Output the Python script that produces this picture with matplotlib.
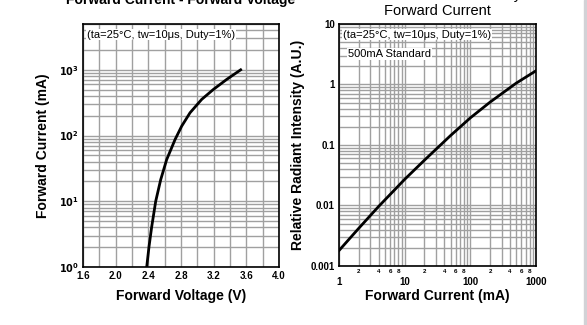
import numpy as np
import matplotlib.pyplot as plt
from matplotlib.ticker import FixedLocator, LogLocator, NullFormatter, FixedFormatter
from matplotlib.patches import Rectangle

plt.rcParams['font.family'] = ['Liberation Sans', 'DejaVu Sans']

# Forward current vs forward voltage
vf = [2.38, 2.408, 2.441, 2.49, 2.551, 2.624, 2.727, 2.808, 2.91, 3.053, 3.196, 3.36, 3.53]
if_ma = [1.0, 2.04, 4.1, 10, 21.3, 43, 87, 139, 222, 355, 503, 716, 1000]

# Relative radiant intensity vs forward current
cur = [1, 2, 4, 10, 20, 50, 100, 200, 500, 1000]
rel = [0.0018, 0.0042, 0.0096, 0.027, 0.056, 0.143, 0.28, 0.51, 1.05, 1.68]

cond = '(ta=25°C, tw=10\u03bcs, Duty=1%)'
grid_c = '#a0a0a0'

fig = plt.figure(figsize=(5.87, 3.25), dpi=100)

# ---- left chart
ax1 = fig.add_axes([0.1414, 0.1785, 0.334, 0.748])
ax1.set_yscale('log')
ax1.plot(vf, if_ma, color='black', lw=2)
ax1.set_xlim(1.6, 4.0)
ax1.set_ylim(1, 5000)
ax1.set_xticks(np.arange(1.6, 4.01, 0.4))
ax1.set_xticklabels(['1.6', '2.0', '2.4', '2.8', '3.2', '3.6', '4.0'])
ax1.xaxis.set_minor_locator(FixedLocator(np.arange(1.6, 4.01, 0.2)))
ax1.set_yticks([1, 10, 100, 1000])
ax1.set_yticklabels([r'$\mathbf{10^{0}}$', r'$\mathbf{10^{1}}$',
                     r'$\mathbf{10^{2}}$', r'$\mathbf{10^{3}}$'])
ax1.yaxis.set_minor_locator(LogLocator(base=10, subs=np.arange(2, 10)))
ax1.yaxis.set_minor_formatter(NullFormatter())
ax1.grid(True, which='both', color=grid_c, lw=1.0)
ax1.set_xlabel('Forward Voltage (V)', fontsize=10, fontweight='bold', labelpad=6)
ax1.set_ylabel('Forward Current (mA)', fontsize=10, fontweight='bold', labelpad=6)
ax1.set_title('Forward Current - Forward Voltage', fontsize=10, fontweight='bold',
              y=1.082, pad=0)
ax1.text(0.02, 0.955, cond, transform=ax1.transAxes, fontsize=8, va='center',
         ha='left', bbox=dict(facecolor='white', edgecolor='none', pad=0.5))

# ---- right chart
ax2 = fig.add_axes([0.5775, 0.1815, 0.3356, 0.745])
ax2.set_xscale('log')
ax2.set_yscale('log')
ax2.plot(cur, rel, color='black', lw=2)
ax2.set_xlim(1, 1000)
ax2.set_ylim(0.001, 10)
ax2.set_xticks([1, 10, 100, 1000])
ax2.set_xticklabels(['1', '10', '100', '1000'])
minor_x = [m * d for d in (1, 10, 100) for m in range(2, 10)]
ax2.xaxis.set_minor_locator(FixedLocator(minor_x))
ax2.xaxis.set_minor_formatter(FixedFormatter(
    [str(m) if m in (2, 4, 6, 8) else '' for d in (1, 10, 100) for m in range(2, 10)]))
ax2.set_yticks([0.001, 0.01, 0.1, 1, 10])
ax2.set_yticklabels(['0.001', '0.01', '0.1', '1', '10'])
ax2.yaxis.set_minor_locator(LogLocator(base=10, subs=np.arange(2, 10)))
ax2.yaxis.set_minor_formatter(NullFormatter())
ax2.grid(True, which='both', color=grid_c, lw=1.0)
ax2.set_xlabel('Forward Current (mA)', fontsize=10, fontweight='bold', labelpad=1)
ax2.set_ylabel('Relative Radiant Intensity (A.U.)', fontsize=10, fontweight='bold',
               labelpad=4)
ax2.set_title('Relative Radiant Intensity\nForward Current', fontsize=10.5,
              pad=6.5)
ax2.text(0.02, 0.955, cond, transform=ax2.transAxes, fontsize=8, va='center',
         ha='left', bbox=dict(facecolor='white', edgecolor='none', pad=0.5))
ax2.text(0.045, 0.875, '500mA Standard', transform=ax2.transAxes, fontsize=8,
         va='center', ha='left',
         bbox=dict(facecolor='white', edgecolor='none', pad=0.5))

for ax in (ax1, ax2):
    for s in ax.spines.values():
        s.set_linewidth(1.2)
    ax.tick_params(which='both', length=0, labelsize=7, pad=3)
    for lab in ax.get_xticklabels() + ax.get_yticklabels():
        lab.set_fontweight('bold')
ax2.tick_params(axis='x', which='minor', labelsize=4.5, pad=2)
ax2.tick_params(axis='x', which='major', pad=8)
for lab in ax2.xaxis.get_minorticklabels():
    lab.set_fontweight('bold')

# light grey strip along the right edge
fig.patches.append(Rectangle((0.9949, 0), 0.006, 1, transform=fig.transFigure,
                             color='#d2d2d6', zorder=0))

fig.savefig('out.png', dpi=100)
